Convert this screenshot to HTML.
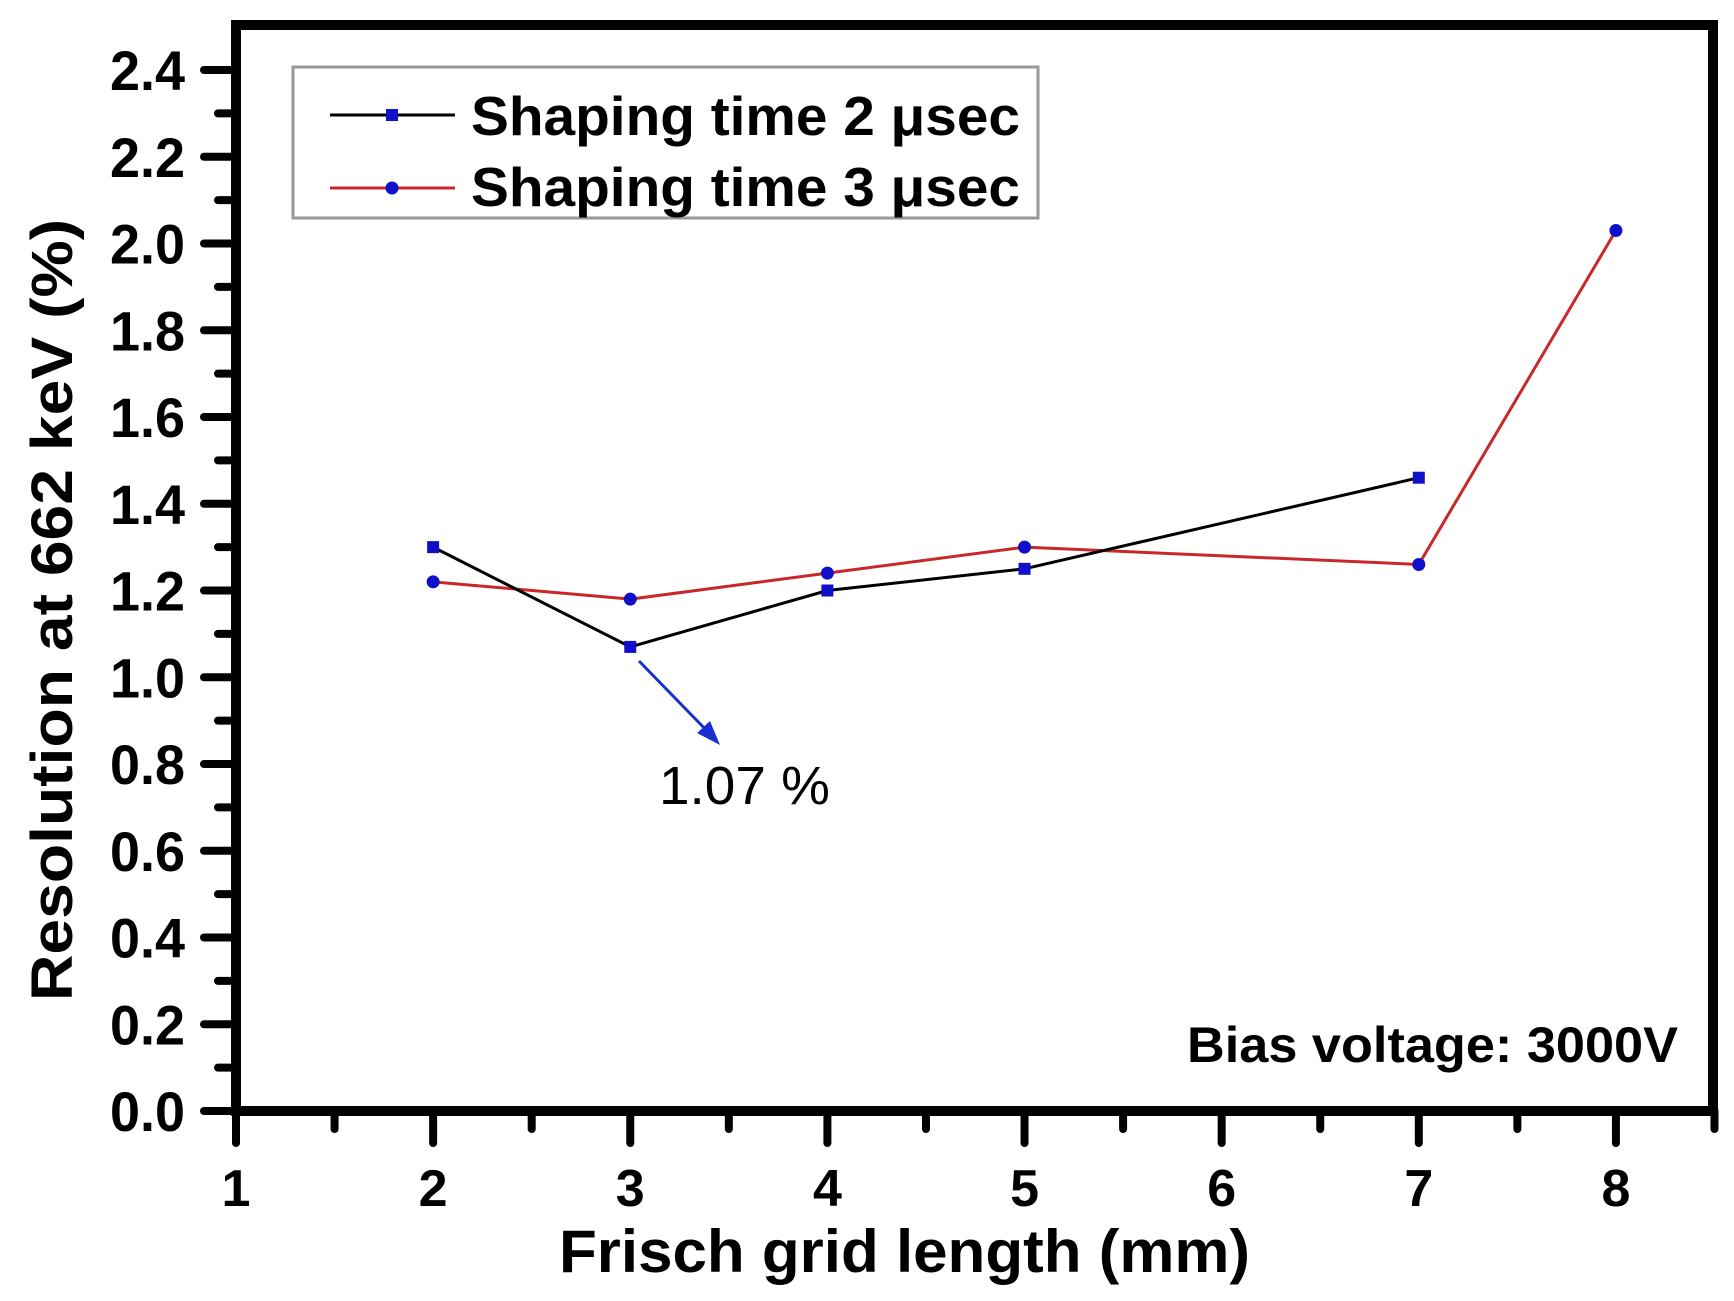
<!DOCTYPE html>
<html><head><meta charset="utf-8"><style>
html,body{margin:0;padding:0;background:#fff;}
svg{display:block;font-family:"Liberation Sans",Arial,sans-serif;}
</style></head><body>
<svg id="chart" width="1734" height="1301" viewBox="0 0 1734 1301" xmlns="http://www.w3.org/2000/svg">
<g id="axes"></g><g id="series"></g>
<g>
<rect x="293" y="67" width="745" height="151" fill="#fff" stroke="#999" stroke-width="3"/>
<g>
<line x1="330" y1="115" x2="455" y2="115" stroke="#000" stroke-width="3"/>
<rect x="386" y="109" width="12" height="12" fill="#1010c8"/>
<text x="471" y="135" font-size="55" font-weight="bold" textLength="549" lengthAdjust="spacingAndGlyphs">Shaping time 2 μsec</text></g>
<g>
<line x1="330" y1="188" x2="455" y2="188" stroke="#c8282a" stroke-width="3"/>
<circle cx="392" cy="188" r="6.5" fill="#1010c8"/>
<text x="471" y="206" font-size="55" font-weight="bold" textLength="549" lengthAdjust="spacingAndGlyphs">Shaping time 3 μsec</text></g>
</g>
<text x="1187" y="1062" font-size="50" font-weight="bold" textLength="491" lengthAdjust="spacingAndGlyphs">Bias voltage: 3000V</text>
<g>
<line x1="639" y1="661" x2="710" y2="734" stroke="#1a2fd0" stroke-width="3"/>
<polygon points="720,745 697,733 710,721" fill="#1a2fd0"/>
<text x="659" y="804" font-size="54" textLength="171" lengthAdjust="spacingAndGlyphs">1.07 %</text></g>
<text x="559" y="1272" font-size="60" font-weight="bold" textLength="691" lengthAdjust="spacingAndGlyphs">Frisch grid length (mm)</text>
<text transform="translate(72,610) rotate(-90)" x="-391" y="0" font-size="58" font-weight="bold" textLength="782" lengthAdjust="spacingAndGlyphs">Resolution at 662 keV (%)</text>
</svg>
<script>
const xS2=[2,3,4,5,7];
const yS2=[1.30,1.07,1.20,1.25,1.46];
const xS3=[2,3,4,5,7,8];
const yS3=[1.22,1.18,1.24,1.30,1.26,2.03];
const xTicks=[1,2,3,4,5,6,7,8];
const yTicks=[0.0,0.2,0.4,0.6,0.8,1.0,1.2,1.4,1.6,1.8,2.0,2.2,2.4];
const NS="http://www.w3.org/2000/svg";
const X0=1,X1=8.4924,PX0=236,PX1=1713;
const Y0=0,Y1=2.4,PY0=1111,PY1=70;
const sx=v=>PX0+(v-X0)/(X1-X0)*(PX1-PX0);
const sy=v=>PY0+(v-Y0)/(Y1-Y0)*(PY1-PY0);
function mk(t,a,p){const e=document.createElementNS(NS,t);for(const k in a)e.setAttribute(k,a[k]);p.appendChild(e);return e;}
const ax=document.getElementById('axes');
const frame=mk('rect',{x:236,y:25,width:1477,height:1086,fill:'none',stroke:'#000','stroke-width':10},ax);


xTicks.forEach((v,i)=>{
 const t=mk('line',{x1:sx(v),y1:1111,x2:sx(v),y2:1143,stroke:'#000','stroke-width':8,'stroke-linecap':'round'},ax);
 
 
 const m=mk('line',{x1:sx(v+0.5),y1:1111,x2:sx(v+0.5),y2:1129,stroke:'#000','stroke-width':8,'stroke-linecap':'round'},ax);
 
 
 const l=mk('text',{x:sx(v),y:1206,'font-size':52,'font-weight':'bold','text-anchor':'middle'},ax);
 l.textContent=v;
 
 
});
yTicks.forEach((v,i)=>{
 const t=mk('line',{x1:204,y1:sy(v),x2:236,y2:sy(v),stroke:'#000','stroke-width':8,'stroke-linecap':'round'},ax);
 
 
 if(i<yTicks.length-1){const m=mk('line',{x1:218,y1:sy(v+0.1),x2:236,y2:sy(v+0.1),stroke:'#000','stroke-width':8,'stroke-linecap':'round'},ax);
 
 }
 const l=mk('text',{x:110,y:sy(v)+20,'font-size':56,'font-weight':'bold',textLength:75,lengthAdjust:'spacingAndGlyphs'},ax);
 l.textContent=v.toFixed(1);
 
 
});
const sg=document.getElementById('series');
function series(xs,ys,color,name,square){
 const pts=xs.map((x,i)=>sx(x)+','+sy(ys[i])).join(' ');
 const pl=mk('polyline',{points:pts,fill:'none',stroke:color,'stroke-width':3},sg);
 
 
 xs.forEach((x,i)=>{
  const m=square?mk('rect',{x:sx(x)-6,y:sy(ys[i])-6,width:12,height:12,fill:'#1010c8'},sg):mk('circle',{cx:sx(x),cy:sy(ys[i]),r:6.5,fill:'#1010c8'},sg);
  
  
 });
}
series(xS3,yS3,'#c8282a','shaping-3usec',false);
series(xS2,yS2,'#000','shaping-2usec',true);
</script>
</body></html>
